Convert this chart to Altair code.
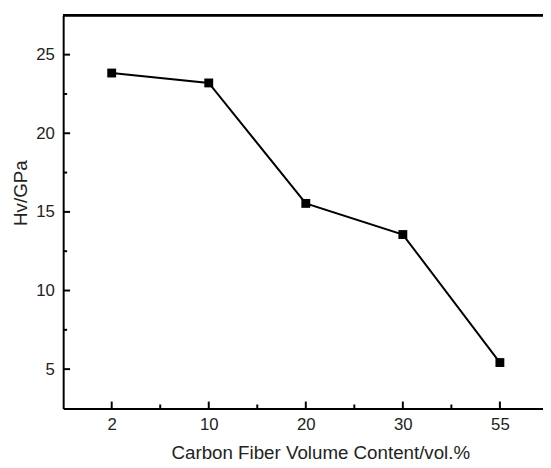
import altair as alt
import pandas as pd

categories = ["2", "10", "20", "30", "55"]
hv_values = [23.83, 23.2, 15.54, 13.56, 5.42]
y_major_ticks = [5, 10, 15, 20, 25]
y_minor_ticks = [7.5, 12.5, 17.5, 22.5]
x_minor_ticks = [0.5, 1.5, 2.5, 3.5]

W, H = 487, 399
FONT = "Liberation Sans"

df = pd.DataFrame({"x": list(range(len(categories))), "y": hv_values})
xmaj = pd.DataFrame({"x": list(range(len(categories)))})
xmin = pd.DataFrame({"x": x_minor_ticks})
ymaj = pd.DataFrame({"y": y_major_ticks})
ymin = pd.DataFrame({"y": y_minor_ticks})

xscale = alt.Scale(domain=[-0.5, -0.5 + W / 98.5], nice=False, zero=False)
yscale = alt.Scale(domain=[2.5, 27.5], nice=False, zero=False)

label_arr = "[" + ",".join("'" + c + "'" for c in categories) + "]"

xaxis = alt.Axis(
    values=list(range(len(categories))),
    labelExpr=label_arr + "[datum.value]",
    title="Carbon Fiber Volume Content/vol.%",
    ticks=False, tickSize=0, grid=False,
    domainColor="black", domainWidth=2,
    labelFont=FONT, labelFontSize=17, labelColor="#222", labelPadding=8,
    titleFont=FONT, titleFontSize=19, titleFontWeight="normal", titleColor="#222",
    titleBaseline="alphabetic", titleX=261, titleY=51,
)
yaxis = alt.Axis(
    values=y_major_ticks,
    title="Hv/GPa",
    ticks=False, tickSize=0, grid=False,
    domainColor="black", domainWidth=2,
    labelFont=FONT, labelFontSize=17, labelColor="#222", labelPadding=9,
    titleFont=FONT, titleFontSize=19, titleFontWeight="normal", titleColor="#222",
    titleBaseline="alphabetic", titleX=-37, titleY=180,
)

X = alt.X("x:Q", scale=xscale, axis=xaxis)
Y = alt.Y("y:Q", scale=yscale, axis=yaxis)

line = alt.Chart(df).mark_line(color="black", strokeWidth=2).encode(x=X, y=Y)
pts = alt.Chart(df).mark_square(size=81, color="black", opacity=1, filled=True).encode(x=X, y=Y)
ytk = alt.Chart(ymaj).mark_rule(color="black", strokeWidth=2).encode(
    y=Y, x=alt.value(0), x2=alt.value(7)
)
ytk2 = alt.Chart(ymin).mark_rule(color="black", strokeWidth=2).encode(
    y=Y, x=alt.value(0), x2=alt.value(4)
)
xtk = alt.Chart(xmaj).mark_rule(color="black", strokeWidth=2).encode(
    x=X, y=alt.value(H), y2=alt.value(H - 7)
)
xtk2 = alt.Chart(xmin).mark_rule(color="black", strokeWidth=2).encode(
    x=X, y=alt.value(H), y2=alt.value(H - 4)
)
top = alt.Chart(df).mark_rule(color="black", strokeWidth=2).encode(
    y=alt.value(0), x=alt.value(0), x2=alt.value(W)
)

chart = alt.layer(line, pts, ytk, ytk2, xtk, xtk2, top).properties(
    width=W, height=H,
    padding={"left": 56, "top": 4, "right": 0, "bottom": 57},
    autosize="none",
    background="white",
).configure_view(stroke=None)

chart.save("out.html", embed_options={"renderer": "svg", "actions": False})
